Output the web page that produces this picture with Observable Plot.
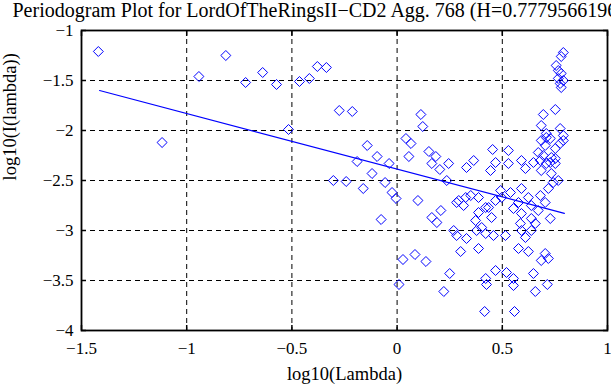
<!DOCTYPE html>
<html><head><meta charset="utf-8">
<script src="https://cdn.jsdelivr.net/npm/d3@7"></script>
<script src="https://cdn.jsdelivr.net/npm/@observablehq/plot@0.6"></script>
<style>html,body{margin:0;padding:0;background:#fff;} svg{display:block}</style>
</head><body><div id="chart"></div>
<script>
const title = "Periodogram Plot for LordOfTheRingsII\u2212CD2 Agg. 768 (H=0.77795661966)";
const xLabel = "log10(Lambda)";
const yLabel = "log10(I(lambda))";
const hurst = 0.777956619;
const xTicks = [-1.5, -1, -0.5, 0, 0.5, 1];
const yTicks = [-4, -3.5, -3, -2.5, -2, -1.5, -1];

const logLambda = [
 -1.420,-1.117,-0.942,-0.814,-0.720,-0.639,-0.573,-0.464,-0.417,-0.379,
 -0.336,-0.516,-0.275,-0.213,-0.142,-0.095,-0.190,-0.038,-0.119,-0.303,
 -0.242,-0.057,-0.161,-0.024,-0.005,-0.076,0.028,0.009,0.042,0.066,
 0.056,0.113,0.122,0.151,0.184,0.165,0.245,0.203,0.364,0.330,
 0.454,0.529,0.468,0.591,0.529,0.444,0.099,0.236,0.293,0.350,
 0.387,0.316,0.421,0.387,0.165,0.208,0.189,0.269,0.373,0.402,
 0.085,0.137,0.302,0.387,0.330,0.421,0.458,0.250,0.222,0.421,
 0.425,0.468,0.416,0.515,0.591,0.638,0.610,0.577,0.624,0.704,
 0.685,0.719,0.520,0.553,0.553,0.648,0.657,0.714,0.558,0.610,
 0.648,0.695,0.728,0.752,0.685,0.728,0.775,0.709,0.790,0.685,
 0.733,0.742,0.766,0.719,0.681,0.704,0.492,0.497,0.468,0.539,
 0.591,0.624,0.577,0.553,0.591,0.638,0.671,0.638,0.728,0.435,
 0.449,0.586,0.657,0.752,0.695,0.685,0.775,0.709,0.790,0.704,
 0.752,0.671,0.733,0.681,0.709,0.752,0.790,0.780,0.756,0.766,
 0.780,0.766,0.790,0.775,0.780,0.283,0.326,0.283,0.378
];
const logI = [
 -1.21,-2.12,-1.46,-1.25,-1.52,-1.42,-1.54,-1.51,-1.48,-1.36,
 -1.37,-1.99,-1.80,-1.81,-2.15,-2.26,-2.31,-2.33,-2.43,-2.50,
 -2.51,-2.52,-2.58,-2.62,-2.68,-2.89,-3.29,-3.54,-2.08,-2.13,
 -2.26,-1.84,-1.96,-2.21,-2.26,-2.33,-2.33,-2.39,-2.30,-2.37,
 -2.19,-2.20,-2.32,-2.30,-2.33,-2.40,-2.70,-2.50,-2.70,-2.65,
 -2.67,-2.75,-2.77,-2.82,-2.87,-2.80,-2.92,-3.00,-2.90,-2.97,
 -3.24,-3.31,-3.21,-3.18,-3.08,-3.03,-3.05,-3.43,-3.61,-3.48,
 -3.54,-3.40,-3.81,-3.05,-3.00,-3.00,-3.07,-3.18,-3.21,-3.23,
 -3.30,-3.28,-3.42,-3.48,-3.55,-3.43,-3.61,-3.54,-3.81,-2.38,
 -2.32,-2.25,-2.32,-2.28,-2.10,-2.08,-2.13,-2.03,-2.05,-2.40,
 -2.43,-2.52,-2.50,-2.58,-2.65,-2.72,-2.60,-2.67,-2.70,-2.62,
 -2.58,-2.67,-2.72,-2.78,-2.83,-2.75,-2.80,-2.88,-2.88,-2.77,
 -2.87,-2.93,-2.93,-1.79,-1.84,-1.95,-1.98,-2.07,-2.10,-2.15,
 -2.18,-2.22,-2.27,-2.30,-2.33,-2.33,-1.22,-1.26,-1.35,-1.40,
 -1.43,-1.48,-1.50,-1.53,-1.57,-3.05,-2.67,-2.72,-3.00
];

// least-squares fit line: slope = 1 - 2H
const fitX = [-1.414, 0.795];
const fitIntercept = -2.386;
const fitSlope = 1 - 2 * hurst;

const points = logLambda.map((x, i) => ({x, y: logI[i]}));
const fit = fitX.map(x => ({x, y: fitIntercept + fitSlope * x}));
const fmt = d => d < 0 ? "\u2212" + Math.abs(d) : String(d);
const blank = () => "";
const font = "Liberation Serif, Times New Roman, serif";

const chart = Plot.plot({
  width: 611, height: 385,
  marginTop: 30, marginLeft: 81, marginRight: 4, marginBottom: 55,
  style: {fontFamily: font, fontSize: "17px", background: "#fff", color: "#000"},
  x: {domain: [-1.5, 1]},
  y: {domain: [-4, -1]},
  marks: [
    Plot.gridX(xTicks, {stroke: "#000", strokeOpacity: 1, strokeWidth: 1, strokeDasharray: "5,4"}),
    Plot.gridY(yTicks, {stroke: "#000", strokeOpacity: 1, strokeWidth: 1, strokeDasharray: "5,4"}),
    Plot.dot(points, {x: "x", y: "y", symbol: "diamond2", r: 4.5, stroke: "#0000ff", strokeWidth: 1, fill: "none"}),
    Plot.line(fit, {x: "x", y: "y", stroke: "#0000ff", strokeWidth: 1.2}),
    Plot.axisX(xTicks, {anchor: "bottom", tickSize: 0, tickPadding: 11, tickFormat: fmt, fontSize: 17, label: null}),
    Plot.axisY(yTicks, {anchor: "left", tickSize: 0, tickPadding: 8, tickFormat: fmt, fontSize: 17, label: null}),
    Plot.axisX(xTicks, {anchor: "bottom", tickSize: -5, tickFormat: blank, label: null, strokeWidth: 1.5}),
    Plot.axisX(xTicks, {anchor: "top", tickSize: -5, tickFormat: blank, label: null, strokeWidth: 1.5}),
    Plot.axisY(yTicks, {anchor: "left", tickSize: -5, tickFormat: blank, label: null, strokeWidth: 1.5}),
    Plot.axisY(yTicks, {anchor: "right", tickSize: -5, tickFormat: blank, label: null, strokeWidth: 1.5}),
    Plot.frame({stroke: "#000", strokeWidth: 1.8}),
    Plot.text([title], {text: d => d, frameAnchor: "top-left", textAnchor: "start", lineAnchor: "middle", dx: -69, dy: -20, fontSize: 20}),
    Plot.text([xLabel], {text: d => d, frameAnchor: "bottom", lineAnchor: "middle", dy: 44, fontSize: 18.5}),
    Plot.text([yLabel], {text: d => d, frameAnchor: "left", rotate: -90, dx: -71, fontSize: 18.5})
  ]
});
document.getElementById("chart").appendChild(chart);
</script>
</body></html>
